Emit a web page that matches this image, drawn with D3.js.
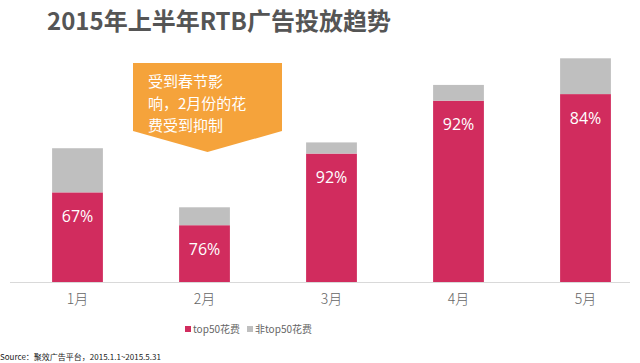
<!DOCTYPE html>
<html>
<head>
<meta charset="utf-8">
<script src="https://cdn.jsdelivr.net/npm/d3@7/dist/d3.min.js"></script>
<style>
  body { margin: 0; background: #fff; }
  text { font-family: "Noto Sans CJK SC", "Open Sans", sans-serif; }
</style>
</head>
<body>
<div id="chart"></div>
<script>
// chart data
const months = ["1月", "2月", "3月", "4月", "5月"];
const totalIndex = [59.8, 33.4, 62.4, 88.1, 100];   // total spend, May = 100
const top50Share = [0.67, 0.76, 0.92, 0.92, 0.84];
const seriesNames = ["top50花费", "非top50花费"];
const calloutLines = ["受到春节影", "响，2月份的花", "费受到抑制"];

const width = 640, height = 363;
const pink = "#d12c5e", grey = "#bfbfbf", orange = "#f5a33b";

const svg = d3.select("#chart").append("svg")
  .attr("width", width)
  .attr("height", height);

const x = d3.scaleBand()
  .domain(months)
  .range([14, 649])
  .paddingInner(0.6)
  .paddingOuter(0.3);

const y = d3.scaleLinear()
  .domain([0, 100])
  .range([282, 58.3]);

const rows = months.map((m, i) => ({
  month: m,
  top: totalIndex[i] * top50Share[i],
  rest: totalIndex[i] * (1 - top50Share[i]),
  share: top50Share[i]
}));

const stacked = d3.stack().keys(["top", "rest"])(rows);
const colors = [pink, grey];

svg.append("g").selectAll("g")
  .data(stacked)
  .join("g")
  .attr("fill", (d, i) => colors[i])
  .selectAll("rect")
  .data(d => d)
  .join("rect")
  .attr("x", d => x(d.data.month))
  .attr("width", x.bandwidth())
  .attr("y", d => y(d[1]))
  .attr("height", d => y(d[0]) - y(d[1]));

// baseline
svg.append("line")
  .attr("x1", 10).attr("x2", 630)
  .attr("y1", y(0) + 0.5).attr("y2", y(0) + 0.5)
  .attr("stroke", "#d9d9d9");

// month labels
const xAxis = svg.append("g")
  .attr("transform", `translate(0,${y(0)})`)
  .call(d3.axisBottom(x).tickSize(0).tickPadding(12));
xAxis.select(".domain").remove();
xAxis.selectAll("text")
  .style("font-family", "'Noto Sans CJK SC', sans-serif")
  .style("font-size", "14px")
  .style("font-weight", "300")
  .attr("fill", "#666");

// percent labels
svg.append("g").selectAll("text")
  .data(rows)
  .join("text")
  .attr("x", d => x(d.month) + x.bandwidth() / 2)
  .attr("y", d => y(d.top) + 24)
  .attr("dy", "0.35em")
  .attr("text-anchor", "middle")
  .attr("fill", "#fff")
  .style("font-family", "'Open Sans', sans-serif")
  .style("font-size", "16px")
  .text(d => Math.round(d.share * 100) + "%");

// title
svg.append("text")
  .attr("x", 47)
  .attr("y", 30)
  .attr("fill", "#555")
  .style("font-size", "24px")
  .style("font-weight", "bold")
  .text("2015年上半年RTB广告投放趋势");

// callout
const cx = x("2月") + x.bandwidth() / 2;
svg.append("path")
  .attr("d", `M133,63 H282 V131 L${cx + 3},152 L133,131 Z`)
  .attr("fill", orange);

svg.append("g").selectAll("text")
  .data(calloutLines)
  .join("text")
  .attr("x", 148)
  .attr("y", (d, i) => 82 + i * 22)
  .attr("dy", "0.35em")
  .attr("fill", "#fff")
  .style("font-size", "15px")
  .text(d => d);

// legend
const legend = svg.append("g").attr("transform", "translate(185,329)");
const legendOffsets = [0, 62];
seriesNames.forEach((name, i) => {
  const g = legend.append("g").attr("transform", `translate(${legendOffsets[i]},0)`);
  g.append("rect")
    .attr("x", 0).attr("y", -3)
    .attr("width", 6).attr("height", 6)
    .attr("fill", colors[i]);
  g.append("text")
    .attr("x", 8)
    .attr("dy", "0.35em")
    .attr("fill", "#666")
    .style("font-size", "10px")
    .text(name);
});

// source
svg.append("text")
  .attr("x", 0)
  .attr("y", 357)
  .attr("dy", "0.35em")
  .attr("fill", "#222")
  .style("font-size", "8px")
  .text("Source：聚效广告平台，2015.1.1~2015.5.31");
</script>
</body>
</html>
